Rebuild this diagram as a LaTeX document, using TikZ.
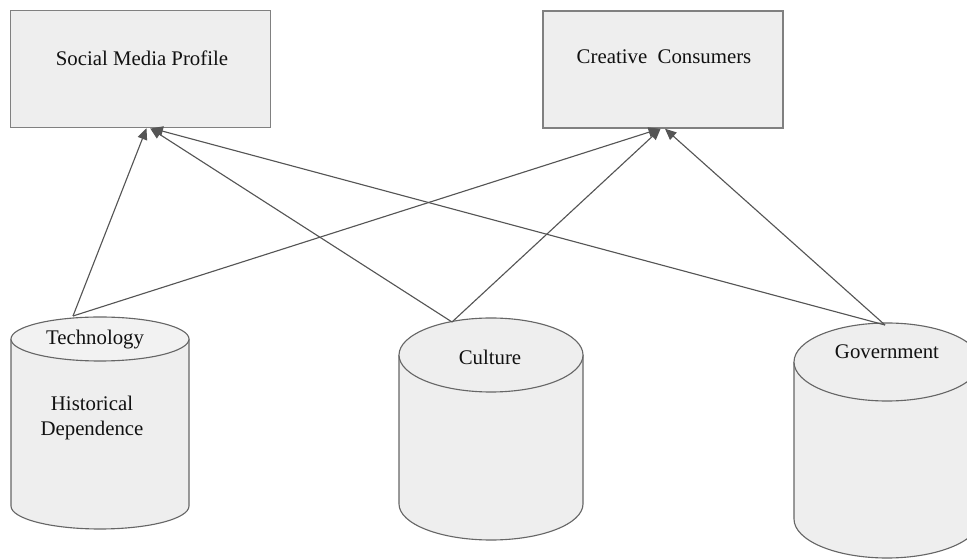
\documentclass[tikz,border=0pt]{standalone}
\usepackage{fontspec}
\setmainfont{Liberation Serif}
\usetikzlibrary{arrows.meta, positioning, calc}
\definecolor{boxfill}{HTML}{EEEEEE}
\definecolor{topfill}{HTML}{F2F2F2}
\definecolor{boxline}{HTML}{808080}
\definecolor{cylline}{HTML}{666666}
\definecolor{arrline}{HTML}{555555}
\definecolor{ink}{HTML}{111111}

\begin{document}
\begin{tikzpicture}[
  x=0.025cm, y=0.025cm,
  >={Triangle[length=8pt, width=7pt]},
  every node/.style={text=ink, font=\fontsize{14.8}{18.4}\selectfont},
  topbox/.style={draw=boxline, fill=boxfill, line width=0.9pt, minimum width=6.5cm, minimum height=2.93cm, inner sep=0pt},
  cylbody/.style={fill=boxfill},
  cylrim/.style={draw=cylline, line width=0.8pt},
  link/.style={draw=arrline, line width=0.8pt, ->},
]

% Frame
\clip (0,0) rectangle (967,559);

% Top boxes
\node[topbox] (smp) at (140.5,490) {};
\node (smptxt) at (142,501) {Social Media Profile};
\node[topbox, minimum width=6.0cm] (cc) at (663,489.5) {};
\node (cctxt) at (664,502) {Creative\ \ Consumers};

% Cylinder: Technology
\fill[cylbody] (11,220) -- (11,53) arc[start angle=180, end angle=360, x radius=89, y radius=23] -- (189,220) -- cycle;
\draw[cylrim] (11,220) -- (11,53) arc[start angle=180, end angle=360, x radius=89, y radius=23] -- (189,220);
\draw[cylrim, fill=topfill] (100,220) ellipse [x radius=89, y radius=22];
\coordinate (techtop) at (73,243);
\node (tech) at (95,219) {Technology};
\node[align=center] (hist) at (92,141) {Historical\\Dependence};

% Cylinder: Culture
\fill[cylbody] (399,204) -- (399,55) arc[start angle=180, end angle=360, x radius=92, y radius=36] -- (583,204) -- cycle;
\draw[cylrim] (399,204) -- (399,55) arc[start angle=180, end angle=360, x radius=92, y radius=36] -- (583,204);
\draw[cylrim, fill=boxfill] (491,204) ellipse [x radius=92, y radius=37];
\coordinate (culttop) at (452,237);
\node (cult) at (490,202) {Culture};

% Cylinder: Government
\fill[cylbody] (794,197) -- (794,40) arc[start angle=180, end angle=360, x radius=93, y radius=39] -- (980,197) -- cycle;
\draw[cylrim] (794,197) -- (794,40) arc[start angle=180, end angle=360, x radius=93, y radius=39] -- (980,197);
\draw[cylrim, fill=boxfill] (887,197) ellipse [x radius=93, y radius=39];
\coordinate (govtop) at (885,234);
\node (gov) at (887,207) {Government};

% Arrows to Social Media Profile
\draw[link] (techtop) -- ([xshift=0.15cm]smp.south);
\draw[link] (culttop) -- ([xshift=0.24cm]smp.south);
\draw[link] (govtop) -- ([xshift=0.28cm]smp.south);

% Arrows to Creative Consumers
\draw[link] (techtop) -- ([xshift=-0.08cm]cc.south);
\draw[link] (culttop) -- ([xshift=-0.06cm]cc.south);
\draw[link] (govtop) -- ([xshift=0.05cm]cc.south);

\end{tikzpicture}
\end{document}
